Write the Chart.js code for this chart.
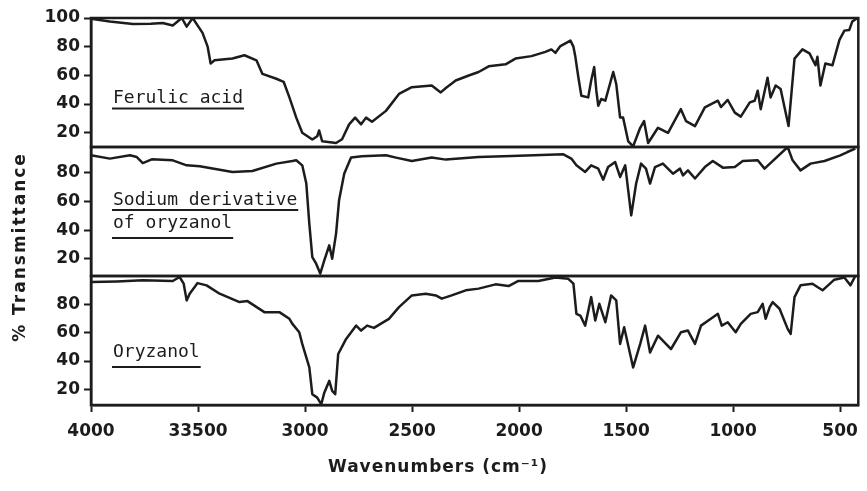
<!DOCTYPE html>
<html>
<head>
<meta charset="utf-8">
<script src="https://cdn.jsdelivr.net/npm/chart.js@4.4.0/dist/chart.umd.min.js"></script>
<style>
  html, body { margin: 0; padding: 0; background: #fff; }
</style>
</head>
<body>
<canvas id="irChart" width="867" height="491"></canvas>
<script>
// x axis (wavenumbers, cm-1)
const xTicks = [4000, 3500, 3000, 2500, 2000, 1500, 1000, 500];
const xTickLabels = ['4000', '33500', '3000', '2500', '2000', '1500', '1000', '500'];

// % transmittance ticks per panel
const topTicks = [20, 40, 60, 80, 100];
const midTicks = [20, 40, 60, 80];
const lowTicks = [20, 40, 60, 80];

const panelLabels = [['Ferulic acid'], ['Sodium derivative', 'of oryzanol'], ['Oryzanol']];

// Ferulic acid
const ferulicWn = [4000, 3912, 3804, 3720, 3665, 3618, 3576, 3553, 3525, 3479, 3455, 3441, 3423, 3339, 3283, 3227, 3199, 3134, 3100, 3073, 3041, 3013, 2966, 2943, 2934, 2920, 2855, 2827, 2794, 2766, 2738, 2715, 2687, 2622, 2561, 2501, 2408, 2366, 2342, 2296, 2235, 2189, 2142, 2063, 2017, 1942, 1877, 1849, 1830, 1807, 1760, 1746, 1737, 1723, 1709, 1677, 1663, 1649, 1639, 1630, 1616, 1597, 1560, 1546, 1528, 1514, 1490, 1467, 1434, 1416, 1397, 1351, 1304, 1244, 1220, 1178, 1132, 1071, 1057, 1025, 992, 964, 922, 899, 885, 871, 839, 825, 801, 778, 741, 713, 676, 643, 615, 606, 592, 569, 536, 503, 480, 457, 443, 419];
const ferulicT = [99.5, 97.5, 95.8, 96, 96.5, 94.8, 100, 94, 100, 89.6, 80, 68.2, 70.5, 71.7, 74, 70.5, 61, 57.6, 55.5, 44.6, 30.5, 20, 15.2, 17.5, 21.5, 14, 12.8, 15.4, 25.8, 30.5, 25.8, 30.5, 27.6, 35.2, 47, 51.7, 52.9, 48.1, 51.2, 56.4, 59.9, 62.3, 66.3, 67.7, 71.7, 73.4, 76.4, 78.1, 75.7, 80.4, 84.2, 80, 72.9, 58.7, 45.8, 44.6, 56.4, 65.8, 49.3, 38.7, 43.5, 42.3, 62.3, 54, 30.5, 30.5, 14, 10.5, 23.4, 28.1, 12.8, 23.4, 19.9, 36.4, 28.1, 24.6, 37.6, 42.3, 37.9, 42.8, 34, 31.2, 41.1, 42.3, 49.3, 36.4, 58.3, 44.6, 52.9, 50.5, 24.6, 71.7, 78.1, 75.3, 67, 72.9, 52.9, 68.2, 67, 84.7, 91.2, 91.7, 97.6, 100];

// Sodium derivative of oryzanol
const sodiumWn = [4000, 3912, 3818, 3786, 3758, 3716, 3618, 3553, 3492, 3339, 3246, 3134, 3059, 3041, 3013, 2994, 2980, 2966, 2948, 2929, 2910, 2887, 2873, 2855, 2841, 2817, 2785, 2734, 2622, 2575, 2501, 2408, 2342, 2189, 2035, 1793, 1756, 1732, 1691, 1663, 1630, 1607, 1584, 1551, 1528, 1504, 1490, 1476, 1453, 1430, 1407, 1388, 1365, 1328, 1281, 1248, 1234, 1211, 1178, 1132, 1095, 1048, 992, 955, 885, 853, 745, 722, 685, 638, 573, 499, 466, 429];
const sodiumT = [92.2, 89.9, 92.2, 91, 86.8, 89.4, 88.7, 85.2, 84.5, 80.6, 81.3, 86.4, 88.2, 88.7, 85.2, 72.5, 44.5, 21.2, 16.6, 9.7, 18.9, 29.4, 20.1, 37.6, 60.8, 79.4, 90.6, 91.5, 92.2, 90.6, 88.2, 90.6, 89.2, 91, 91.7, 92.9, 89.9, 85.2, 80.6, 85.2, 82.9, 75.2, 84, 87.5, 77.1, 85.2, 67.8, 50.3, 72.5, 86.4, 82.9, 72.5, 84, 86.4, 79.4, 82.9, 78.2, 81.7, 76, 84, 88.2, 83.6, 84, 88.2, 88.7, 82.9, 98, 88.7, 81.7, 86.4, 88.2, 92.2, 94.5, 96.9];

// Oryzanol
const oryzWn = [4000, 3879, 3758, 3618, 3586, 3567, 3553, 3539, 3502, 3460, 3399, 3306, 3269, 3190, 3120, 3073, 3059, 3027, 3013, 2980, 2966, 2943, 2924, 2910, 2887, 2873, 2859, 2845, 2808, 2761, 2738, 2710, 2678, 2608, 2561, 2501, 2436, 2389, 2361, 2315, 2249, 2189, 2110, 2049, 2003, 1910, 1830, 1770, 1746, 1732, 1714, 1691, 1663, 1644, 1625, 1597, 1570, 1546, 1528, 1509, 1467, 1434, 1411, 1388, 1351, 1290, 1244, 1211, 1178, 1150, 1104, 1071, 1053, 1025, 988, 964, 918, 885, 862, 848, 829, 815, 783, 745, 731, 713, 685, 629, 606, 582, 527, 480, 452, 429];
const oryzT = [95.7, 96.2, 97, 96.5, 99.3, 94.6, 82.8, 87.5, 95, 93.4, 87.5, 81.6, 82.3, 74.5, 74.5, 69.8, 66.2, 60.3, 52.1, 35.5, 16.6, 14.2, 9.5, 17.7, 26, 18.9, 16.6, 45, 55.6, 65, 61.5, 65, 63.4, 69.8, 78, 86.3, 87.5, 86.3, 84, 86.3, 89.9, 91.1, 94.1, 92.9, 96.5, 96.5, 98.9, 98, 94.6, 73.3, 72.1, 65, 85.1, 68.6, 80.4, 67.4, 86.3, 82.8, 52.1, 63.8, 35.5, 52.1, 65, 46.1, 57.9, 48.5, 60.3, 61.5, 52.1, 65, 69.8, 73.3, 65, 67.4, 60.3, 66.2, 73.3, 74.5, 80.4, 69.8, 78, 81.6, 76.9, 62.7, 59.1, 85.1, 93.4, 94.6, 92.2, 89.9, 97.4, 98.9, 93.4, 100];

const ink = '#1c1c1c';
const tickFont = { family: 'DejaVu Sans', size: 17, weight: 'bold' };

const toPoints = (xs, ys) => xs.map((x, i) => ({ x: x, y: ys[i] }));

const yAxis = (min, max, ticks, weight) => ({
  type: 'linear',
  position: 'left',
  stack: 'spectra',
  stackWeight: 1,
  weight: weight,
  min: min,
  max: max,
  afterBuildTicks: s => { s.ticks = ticks.map(v => ({ value: v })); },
  afterFit: s => { s.width = 91; },
  ticks: { font: tickFont, color: ink, padding: 4, autoSkip: false },
  grid: { drawOnChartArea: false, drawTicks: true, tickLength: 7, tickWidth: 2, tickColor: ink },
  border: { display: true, color: ink, width: 2.5 }
});

const lineStyle = { borderColor: ink, borderWidth: 2.5, pointRadius: 0, tension: 0, fill: false, borderJoinStyle: 'round' };

// frames, panel labels and axis titles
const decorations = {
  id: 'decorations',
  afterDraw(chart) {
    const { ctx, chartArea } = chart;
    const panels = [chart.scales.yTop, chart.scales.yMid, chart.scales.yLow];
    ctx.save();
    ctx.strokeStyle = ink;
    ctx.fillStyle = ink;
    ctx.lineWidth = 2.5;
    panels.forEach(s => {
      ctx.strokeRect(chartArea.left, s.top, chartArea.right - chartArea.left, s.bottom - s.top);
    });

    // labels inside panels
    const layout = [[[85, 90.5]], [[58, 63], [81, 91]], [[81, 91]]];
    ctx.font = '18px "DejaVu Sans Mono"';
    ctx.textAlign = 'left';
    ctx.textBaseline = 'alphabetic';
    ctx.lineWidth = 2;
    panelLabels.forEach((lines, p) => {
      lines.forEach((txt, j) => {
        const [base, under] = layout[p][j];
        const y0 = panels[p].top;
        ctx.fillText(txt, 113, y0 + base);
        const w = ctx.measureText(txt).width;
        ctx.beginPath();
        ctx.moveTo(112, y0 + under);
        ctx.lineTo(114 + w, y0 + under);
        ctx.stroke();
      });
    });

    // axis titles
    ctx.font = 'bold 17px "DejaVu Sans"';
    ctx.letterSpacing = '1px';
    ctx.textAlign = 'center';
    ctx.textBaseline = 'middle';
    ctx.fillText('Wavenumbers (cm\u207B\u00B9)', 438, 468);

    ctx.letterSpacing = '2px';
    ctx.translate(21, 247);
    ctx.rotate(-Math.PI / 2);
    ctx.fillText('% Transmittance', 0, 0);
    ctx.restore();
  }
};

new Chart(document.getElementById('irChart'), {
  type: 'line',
  data: {
    datasets: [
      Object.assign({ label: 'Ferulic acid', data: toPoints(ferulicWn, ferulicT), yAxisID: 'yTop' }, lineStyle),
      Object.assign({ label: 'Sodium derivative of oryzanol', data: toPoints(sodiumWn, sodiumT), yAxisID: 'yMid' }, lineStyle),
      Object.assign({ label: 'Oryzanol', data: toPoints(oryzWn, oryzT), yAxisID: 'yLow' }, lineStyle)
    ]
  },
  options: {
    responsive: false,
    animation: false,
    devicePixelRatio: 1,
    layout: { padding: { top: 18, right: 6, left: 0, bottom: 0 } },
    plugins: { legend: { display: false }, tooltip: { enabled: false } },
    scales: {
      x: {
        type: 'linear',
        reverse: true,
        min: 415,
        max: 4000,
        afterBuildTicks: s => { s.ticks = xTicks.map(v => ({ value: v })); },
        afterFit: s => { s.height = 86; },
        ticks: {
          font: tickFont,
          color: ink,
          padding: 9,
          autoSkip: false,
          maxRotation: 0,
          callback: v => xTickLabels[xTicks.indexOf(v)]
        },
        grid: { drawOnChartArea: false, drawTicks: true, tickLength: 7, tickWidth: 2, tickColor: ink },
        border: { display: true, color: ink, width: 2.5 }
      },
      yTop: yAxis(10, 100, topTicks, 3),
      yMid: yAxis(8, 98, midTicks, 2),
      yLow: yAxis(9, 100, lowTicks, 1)
    }
  },
  plugins: [decorations]
});
</script>
</body>
</html>
